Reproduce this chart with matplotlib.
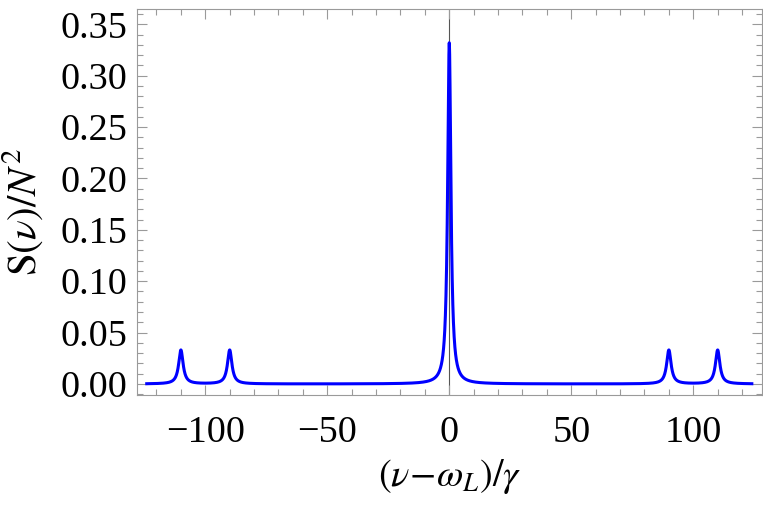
import numpy as np
import matplotlib
matplotlib.use("Agg")
import matplotlib.pyplot as plt
from matplotlib.ticker import MultipleLocator, FormatStrFormatter

plt.rcParams["font.family"] = ["Liberation Serif", "DejaVu Serif"]
plt.rcParams["mathtext.fontset"] = "stix"

# -------------------------------------------------------
# Spectrum: Lorentzian lines
# (centre, peak height, half-width) on a detuning range
# -------------------------------------------------------
nu_range = [-124, 124]
peak_centers = [-110, -90, 0, 90, 110]
peak_heights = [0.033, 0.033, 0.332, 0.033, 0.033]
peak_halfwidths = [1.1, 1.1, 0.8, 1.1, 1.1]

x_ticks = [-100, -50, 0, 50, 100]
y_ticks = [0.00, 0.05, 0.10, 0.15, 0.20, 0.25, 0.30, 0.35]

nu = np.linspace(nu_range[0], nu_range[1], 4961)
spec = np.zeros_like(nu)
for c, h, w in zip(peak_centers, peak_heights, peak_halfwidths):
    spec += h * w**2 / ((nu - c)**2 + w**2)

FRAME = "#9a9a9a"

fig = plt.figure(figsize=(7.63, 5.08), dpi=100)
ax = fig.add_axes([0.1792, 0.2225, 0.8199, 0.7604])

ax.axvline(0, color="#555555", lw=0.8, zorder=1)
ax.plot(nu, spec, color="#0000ff", lw=2.2, zorder=3)

ax.set_xlim(-128.1, 128.3)
ax.set_ylim(-0.0107, 0.3652)

ax.set_xticks(x_ticks)
ax.set_yticks(y_ticks)
ax.xaxis.set_minor_locator(MultipleLocator(10))
ax.yaxis.set_minor_locator(MultipleLocator(0.01))
ax.yaxis.set_major_formatter(FormatStrFormatter("%.2f"))

for spine in ax.spines.values():
    spine.set_edgecolor(FRAME)
    spine.set_linewidth(0.8)

ax.tick_params(which="both", direction="in", top=True, right=True,
               color=FRAME, width=0.8, labelsize=27.5, labelcolor="black")
ax.tick_params(which="major", length=7)
ax.tick_params(which="minor", length=4)
ax.tick_params(axis="x", which="major", pad=15)
ax.tick_params(axis="y", which="major", pad=6.5)

ax.set_xlabel(r"$(\nu\!-\!\omega_L)/\gamma$", fontsize=27.5)
ax.set_ylabel(r"$\mathrm{S}(\nu)/N^2$", fontsize=29.5)
ax.xaxis.set_label_coords(0.5, -0.16)
ax.yaxis.set_label_coords(-0.146, 0.474)

plt.savefig("out.png", dpi=100)
plt.close()
